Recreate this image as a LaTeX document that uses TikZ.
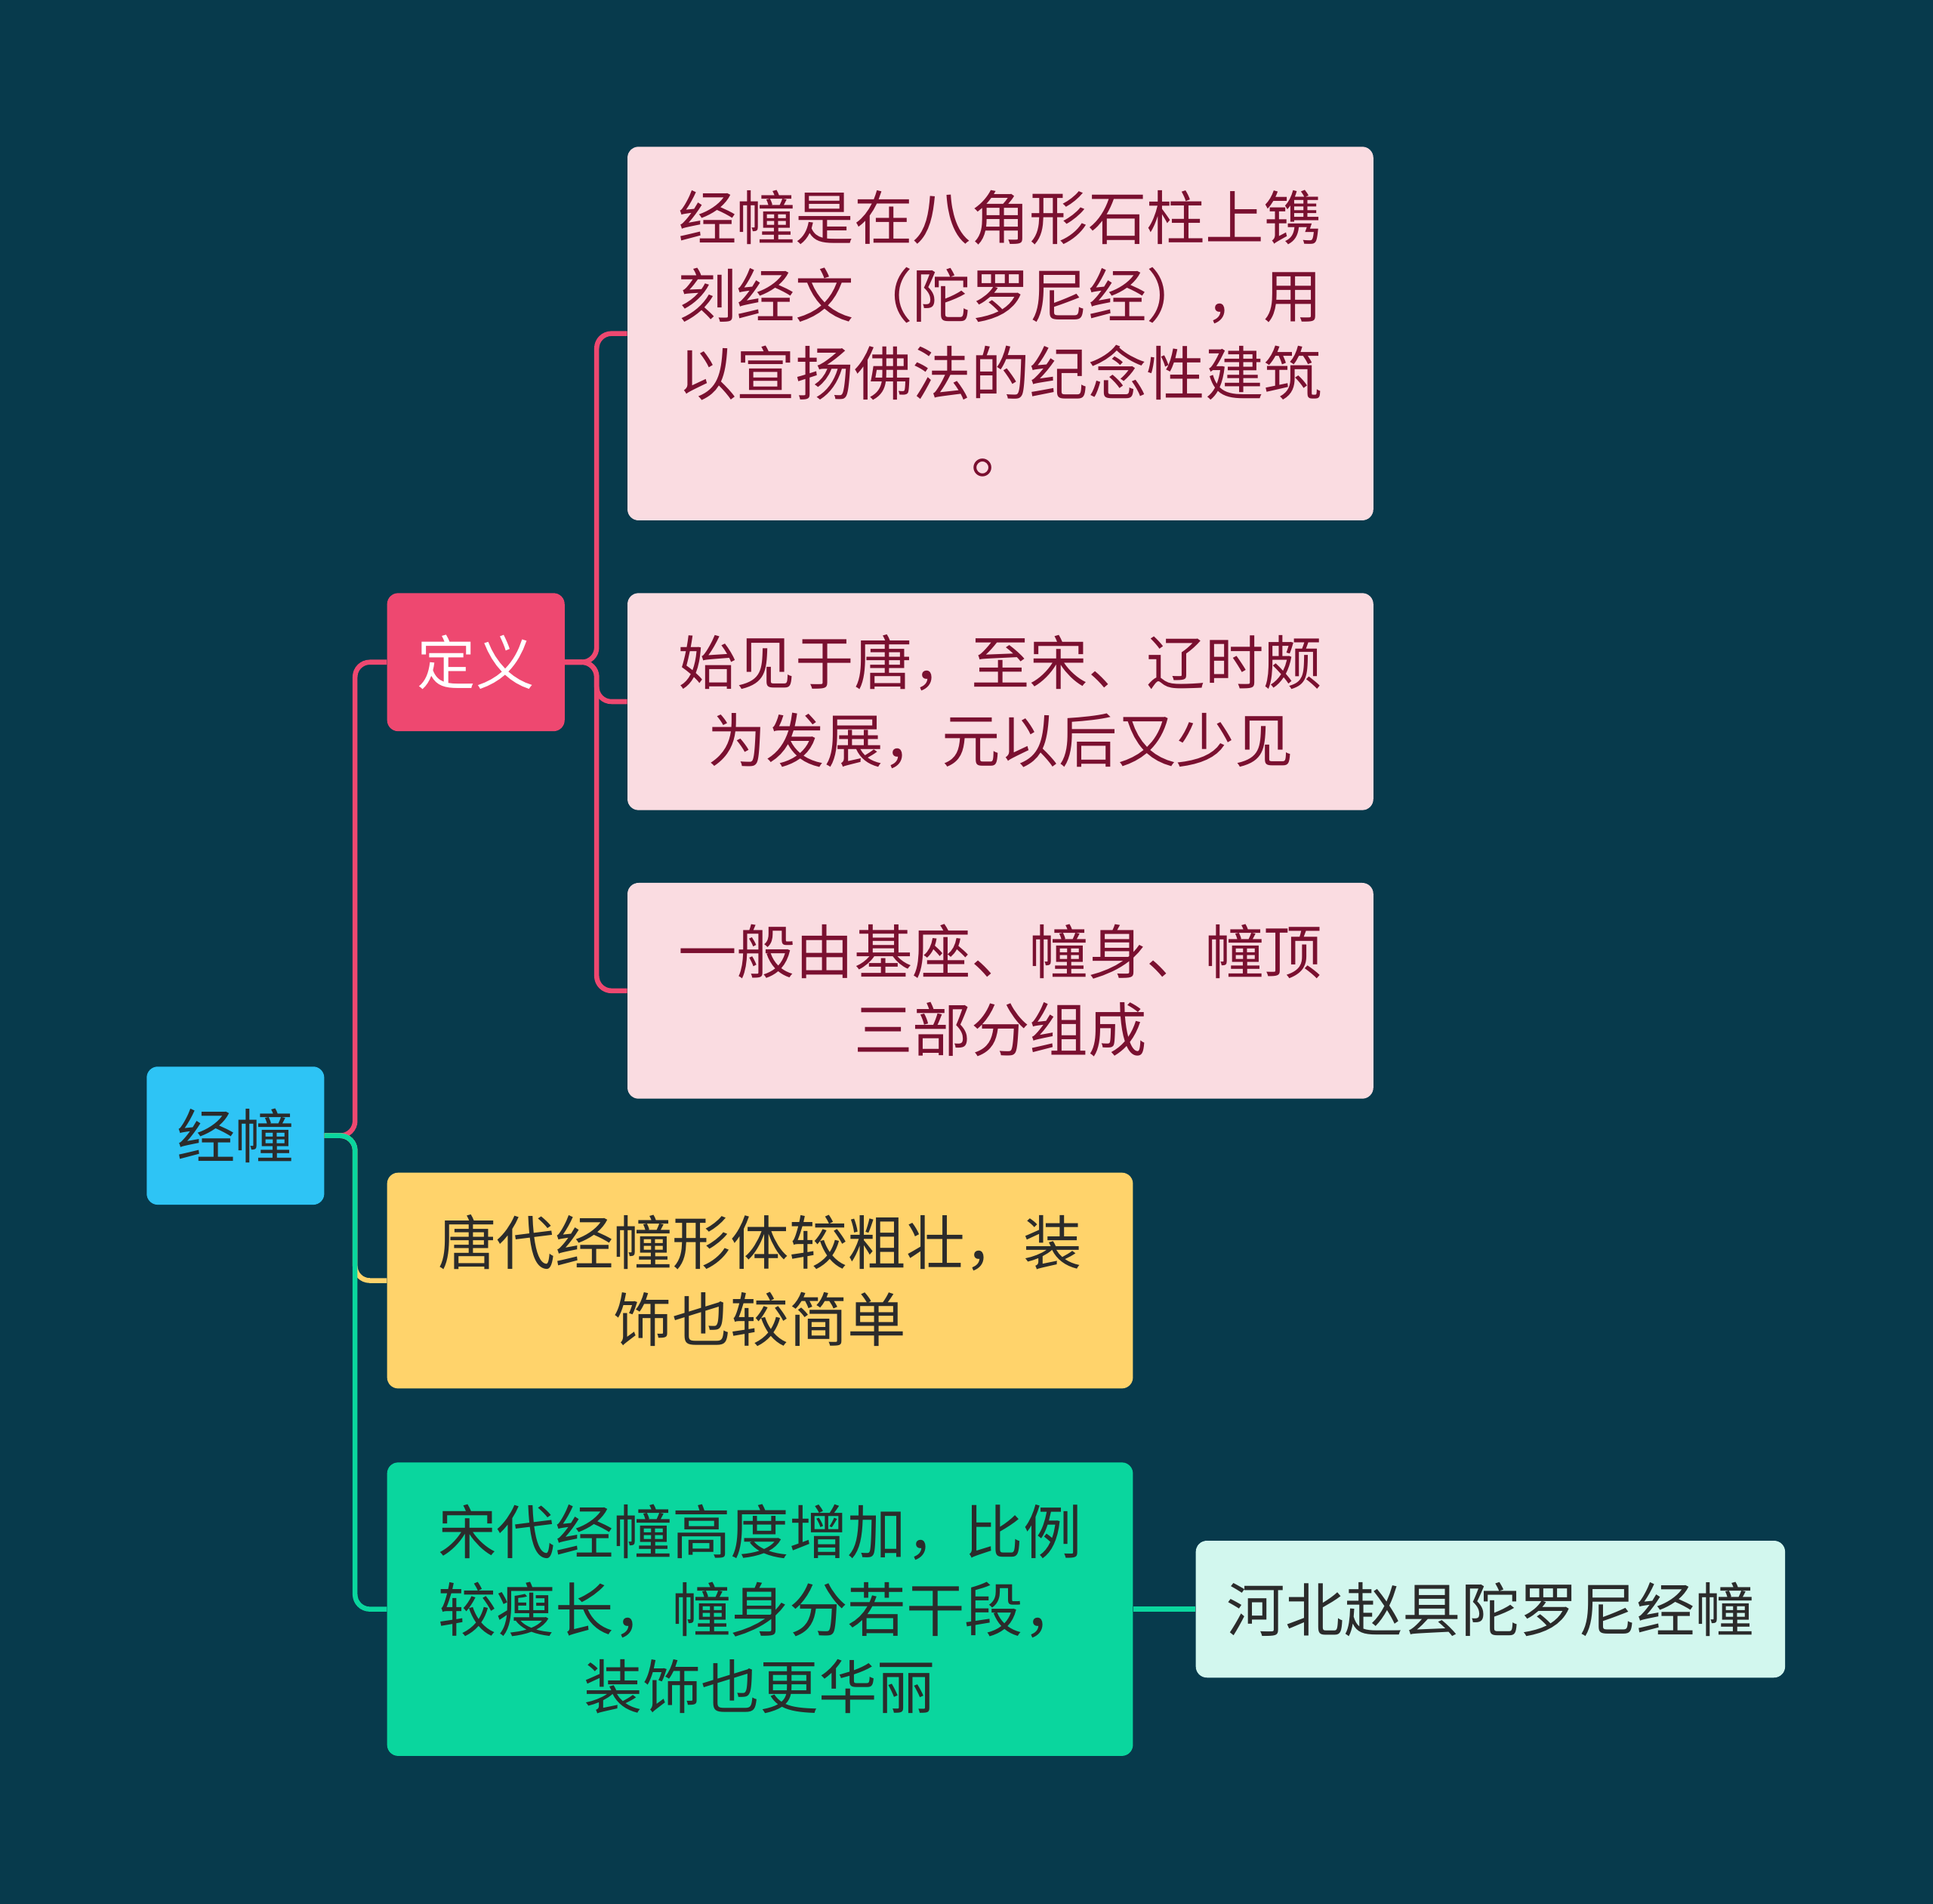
\documentclass[tikz,border=0pt]{standalone}
\usepackage{fontspec}
\setmainfont{Noto Sans CJK SC}
\definecolor{bg}{HTML}{073A4C}
\definecolor{rootc}{HTML}{2EC4F5}
\definecolor{pinkc}{HTML}{EE4870}
\definecolor{lpink}{HTML}{FADCE1}
\definecolor{dred}{HTML}{7A1030}
\definecolor{yel}{HTML}{FFD36B}
\definecolor{grn}{HTML}{0AD69E}
\definecolor{lgrn}{HTML}{D2F7EE}
\definecolor{txt}{HTML}{2B2B2B}
\begin{document}
\begin{tikzpicture}[x=1pt,y=-1pt,
  box/.style={rounded corners=9pt,inner sep=0pt,align=center,font=\fontsize{47.5}{63}\selectfont},
  conn/.style={line width=4pt,rounded corners=12pt}]
\fill[bg] (0,0) rectangle (1568,1544);
\useasboundingbox (0,0) rectangle (1568,1544);
\node[box,fill=rootc,text=txt,minimum width=144pt,minimum height=112pt] (root) at (191,921) {经幢};
\node[box,fill=pinkc,text=white,minimum width=144pt,minimum height=112pt] (def) at (386,537) {定义};
\node[box,fill=lpink,text=dred,minimum width=605pt,minimum height=303pt] (b1) at (811.5,270.5) {经幢是在八角形石柱上镌\\刻经文（陀罗尼经），用\\以宣扬佛法的纪念性建筑\\。};
\node[box,fill=lpink,text=dred,minimum width=605pt,minimum height=176pt] (b2) at (811.5,569) {始见于唐，至宋、辽时颇\\为发展，元以后又少见};
\node[box,fill=lpink,text=dred,minimum width=605pt,minimum height=175pt] (b3) at (811.5,803.5) {一般由基座、幢身、幢顶\\三部分组成};
\node[box,fill=yel,text=txt,minimum width=605pt,minimum height=175pt] (t) at (616.5,1038.5) {唐代经幢形体较粗壮，装\\饰也较简单};
\node[box,fill=grn,text=txt,minimum width=605pt,minimum height=238pt] (s) at (616.5,1305) {宋代经幢高度增加，比例\\较瘦长，幢身分若干段，\\装饰也更华丽};
\node[box,fill=lgrn,text=txt,minimum width=478pt,minimum height=111pt] (h) at (1209,1305) {河北赵县陀罗尼经幢};
\draw[conn,pinkc] (root.east) -- (288,921) |- (def.west);
\draw[conn,yel] (root.east) -- (288,921) |- (t.west);
\draw[conn,grn] (root.east) -- (288,921) |- (s.west);
\draw[conn,pinkc] (def.east) -- (484,537) |- (b1.west);
\draw[conn,pinkc] (def.east) -- (484,537) |- (b2.west);
\draw[conn,pinkc] (def.east) -- (484,537) |- (b3.west);
\draw[conn,grn,rounded corners=0pt] (s.east) -- (h.west);
\end{tikzpicture}
\end{document}
